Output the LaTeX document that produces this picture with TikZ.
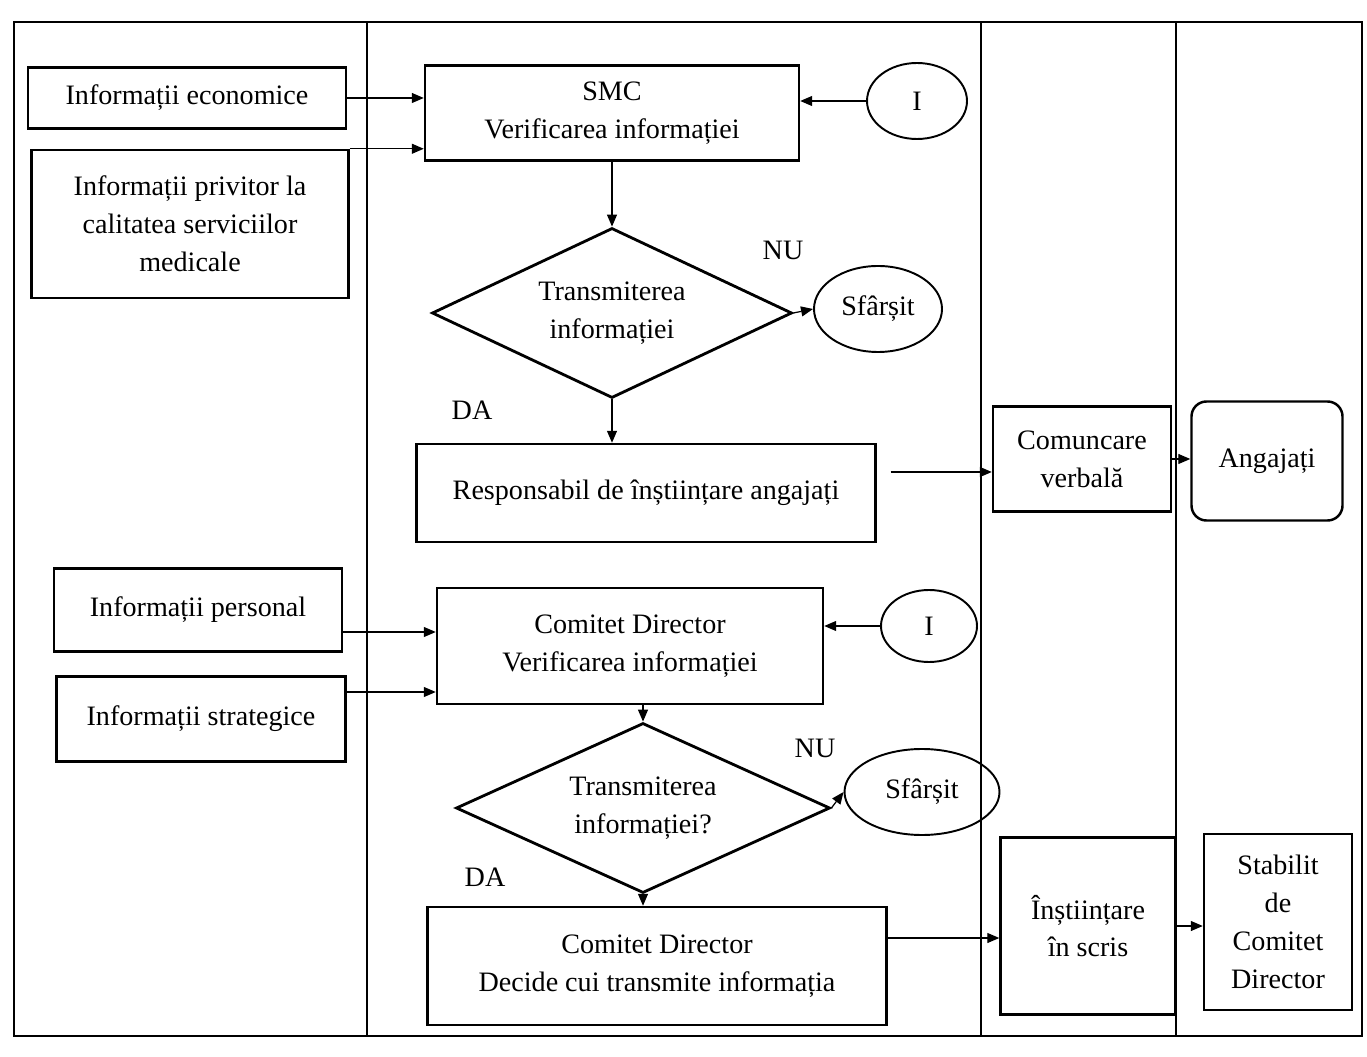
\documentclass[tikz,border=0pt]{standalone}
\usepackage{fontspec}
\setmainfont{Liberation Serif}
\usetikzlibrary{arrows.meta,shapes.geometric}

\begin{document}
\begin{tikzpicture}[
  x=0.2mm, y=-0.2mm,
  font=\fontsize{16}{21.5}\selectfont,
  >={Triangle[length=2.4mm,width=2mm]},
  box/.style={draw,line width=1.4pt,inner sep=0pt,align=center},
  term/.style={draw,ellipse,line width=1.1pt,inner sep=0pt,align=center},
  dec/.style={draw,diamond,aspect=2.1,line width=1.6pt,inner sep=0pt,align=center},
  flow/.style={->,line width=0.7pt},
  lane/.style={line width=0.6pt}
]
\useasboundingbox (0,0) rectangle (1367,1057);

% ---- Lanes ----
\draw[lane] (14,22) rectangle (1362,1036);
\foreach \x in {367,981,1176} {
  \draw[lane] (\x,22) -- (\x,1036);
}

% ---- Upper flow ----
\node[box, minimum width=6.36cm, minimum height=1.22cm] (econ) at (187,98) {Informații economice};
\node[box, minimum width=6.34cm, minimum height=2.96cm] (calit) at (190,224) {Informații privitor la\\calitatea serviciilor\\medicale};
\node[box, minimum width=7.48cm, minimum height=1.9cm] (smc) at (612,113) {SMC\\Verificarea informației};
\node[term, minimum width=2cm, minimum height=1.52cm] (in1) at (917,101) {I};
\node[dec, minimum width=7.2cm, minimum height=3.4cm] (dia1) at (612,313) {Transmiterea\\informației};
\node[term, minimum width=2.56cm, minimum height=1.72cm] (sf1) at (878,309) {Sfârșit};
\node (nu1) at (783,250) {NU};
\node (da1) at (472,410) {DA};
\node[box, minimum width=9.18cm, minimum height=1.96cm] (resp) at (646,493) {Responsabil de înștiințare angajați};
\node[box, minimum width=3.56cm, minimum height=2.1cm] (comv) at (1082,459) {Comuncare\\verbală};
\node[box, rounded corners=0.3cm, minimum width=3.02cm, minimum height=2.38cm] (ang) at (1267,461) {Angajați};

% ---- Lower flow ----
\node[box, minimum width=5.76cm, minimum height=1.66cm] (pers) at (198,610) {Informații personal};
\node[box, minimum width=5.78cm, minimum height=1.7cm] (strat) at (201,719) {Informații strategice};
\node[box, minimum width=7.72cm, minimum height=2.32cm] (cd1) at (630,646) {Comitet Director\\Verificarea informației};
\node[term, minimum width=1.92cm, minimum height=1.44cm] (in2) at (929,626) {I};
\node[dec, minimum width=7.48cm, minimum height=3.4cm] (dia2) at (643,808) {Transmiterea\\informației?};
\node[term, minimum width=3.1cm, minimum height=1.72cm] (sf2) at (922,792) {Sfârșit};
\node (nu2) at (815,748) {NU};
\node (da2) at (485,877) {DA};
\node[box, minimum width=9.18cm, minimum height=2.36cm] (cd2) at (657,966) {Comitet Director\\Decide cui transmite informația};
\node[box, minimum width=3.5cm, minimum height=3.54cm] (inst) at (1088,926) {Înștiințare\\în scris};
\node[box, minimum width=2.96cm, minimum height=3.52cm] (stab) at (1278,922) {Stabilit\\de\\Comitet\\Director};

% ---- Arrows ----
\draw[flow] (econ.east) -- (econ.east -| smc.west);
\draw[flow] (calit.north east) -- (calit.north east -| smc.west);
\draw[flow] (in1.west) -- (in1.west -| smc.east);
\draw[flow] (dia1.north |- smc.south) -- (dia1.north);
\draw[flow] (dia1.east) -- (sf1.west);
\draw[flow] (dia1.south) -- (dia1.south |- resp.north);
\draw[flow, shorten <=0.28cm] ([yshift=-0.26cm]comv.west -| resp.east) -- ([yshift=-0.26cm]comv.west);
\draw[flow] (comv.east) -- (comv.east -| ang.west);

\draw[flow] ([yshift=-0.44cm]pers.east) -- ([yshift=-0.44cm]pers.east -| cd1.west);
\draw[flow] ([yshift=0.54cm]strat.east) -- ([yshift=0.54cm]strat.east -| cd1.west);
\draw[flow] (in2.west) -- (in2.west -| cd1.east);
\draw[flow] (dia2.north |- cd1.south) -- (dia2.north);
\draw[flow] (dia2.east) -- (sf2.west);
\draw[flow] (dia2.south) -- (dia2.south |- cd2.north);
\draw[flow] ([yshift=0.56cm]cd2.east) -- ([yshift=0.56cm]cd2.east -| inst.west);
\draw[flow] (inst.east) -- (inst.east -| stab.west);

\end{tikzpicture}
\end{document}
